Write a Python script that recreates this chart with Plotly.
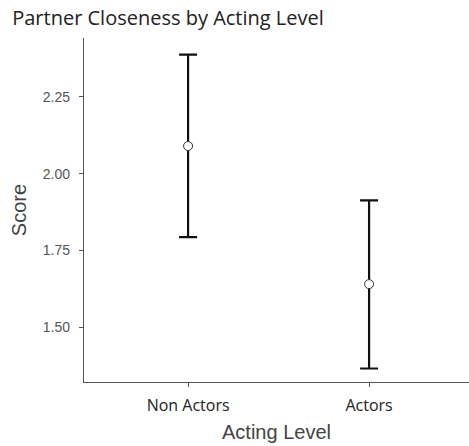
import plotly.graph_objects as go

# Group means with lower / upper confidence limits
groups = ["Non Actors", "Actors"]
means = [2.09, 1.64]
lower = [1.793, 1.365]
upper = [2.388, 1.913]

err_plus = [u - m for u, m in zip(upper, means)]
err_minus = [m - l for m, l in zip(means, lower)]

fig = go.Figure()
fig.add_trace(go.Scatter(
    x=[0, 1],
    y=means,
    mode="markers",
    marker=dict(size=9, color="white", line=dict(color="#333333", width=1)),
    error_y=dict(type="data", symmetric=False, array=err_plus, arrayminus=err_minus,
                 color="#111111", thickness=2.2, width=9),
    showlegend=False,
))

axis_gray = "#555555"
fig.update_layout(
    width=469, height=446,
    margin=dict(l=84, r=0, t=38, b=64),
    paper_bgcolor="white", plot_bgcolor="white",
    title=dict(text="Partner Closeness by Acting Level", x=0.026, xanchor="left",
               y=0.96, yanchor="middle",
               font=dict(family="Open Sans", size=20, color="#222222")),
    xaxis=dict(
        range=[-0.575, 1.552], tickmode="array", tickvals=[0, 1], ticktext=groups,
        showgrid=False, zeroline=False, showline=True, linecolor=axis_gray, linewidth=1.3,
        ticks="outside", ticklen=4, tickcolor=axis_gray, ticklabelstandoff=5,
        tickfont=dict(family="Open Sans", size=16, color="#222222"),
        title=dict(text="Acting Level", standoff=9,
                   font=dict(family="Liberation Sans", size=20, color="#444444")),
    ),
    yaxis=dict(
        range=[1.321, 2.442], tickvals=[1.5, 1.75, 2.0, 2.25],
        ticktext=["1.50", "1.75", "2.00", "2.25"],
        showgrid=False, zeroline=False, showline=True, linecolor=axis_gray, linewidth=1.3,
        ticks="outside", ticklen=4, tickcolor=axis_gray, ticklabelstandoff=6,
        tickfont=dict(family="Liberation Sans", size=14, color="#555555"),
        title=dict(text="Score", standoff=10,
                   font=dict(family="Liberation Sans", size=20, color="#444444")),
    ),
)

fig.write_html("out.html")
